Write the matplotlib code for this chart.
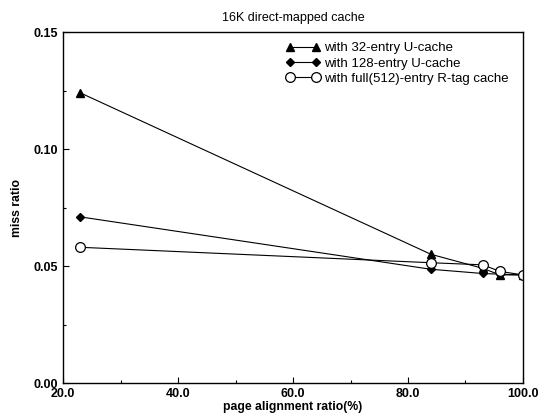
import matplotlib
matplotlib.use("Agg")
import matplotlib.pyplot as plt
from matplotlib.ticker import MultipleLocator, FormatStrFormatter

plt.rcParams['font.family'] = ['Liberation Sans', 'DejaVu Sans']

# page alignment ratio (%)
x_pts = [23, 84, 93, 96, 100]

# miss ratios
u32 = [0.124, 0.055, 0.049, 0.0462, 0.0462]
u128 = [0.071, 0.0486, 0.0468, 0.0465, 0.0462]
rtag = [0.058, 0.0514, 0.0505, 0.0477, 0.0462]

labels = ["with 32-entry U-cache",
          "with 128-entry U-cache",
          "with full(512)-entry R-tag cache"]

fig = plt.figure(figsize=(5.4, 4.19), dpi=100)
ax = fig.add_axes([0.1167, 0.0859, 0.8518, 0.8377])

ax.plot(x_pts, u32, color='black', lw=0.8, marker='^', ms=6,
        label=labels[0])
ax.plot(x_pts, u128, color='black', lw=0.8, marker='D', ms=4.5,
        label=labels[1])
ax.plot(x_pts, rtag, color='black', lw=0.8, marker='o', ms=7,
        mfc='white', mec='black', mew=0.9, label=labels[2])

ax.set_xlim(20, 100)
ax.set_ylim(0, 0.15)
ax.xaxis.set_major_locator(MultipleLocator(20))
ax.xaxis.set_minor_locator(MultipleLocator(10))
ax.yaxis.set_major_locator(MultipleLocator(0.05))
ax.yaxis.set_minor_locator(MultipleLocator(0.025))
ax.xaxis.set_major_formatter(FormatStrFormatter('%.1f'))
ax.yaxis.set_major_formatter(FormatStrFormatter('%.2f'))
ax.tick_params(which='both', direction='in', labelsize=9, width=0.8)
ax.tick_params(which='major', length=4)
ax.tick_params(which='minor', length=2)
for t in ax.get_xticklabels() + ax.get_yticklabels():
    t.set_fontweight('bold')
for s in ax.spines.values():
    s.set_linewidth(1.0)

ax.set_xlabel("page alignment ratio(%)", fontsize=8.8, fontweight='bold',
              labelpad=1)
ax.set_ylabel("miss ratio", fontsize=8.8, fontweight='bold', labelpad=8)
ax.set_title("16K direct-mapped cache", fontsize=9, pad=8)

ax.legend(loc='upper right', bbox_to_anchor=(0.995, 1.005), frameon=False,
          numpoints=2, handlelength=2.6, handletextpad=0.3,
          labelspacing=0.22, fontsize=9.5)

fig.savefig("out.png", dpi=100)
